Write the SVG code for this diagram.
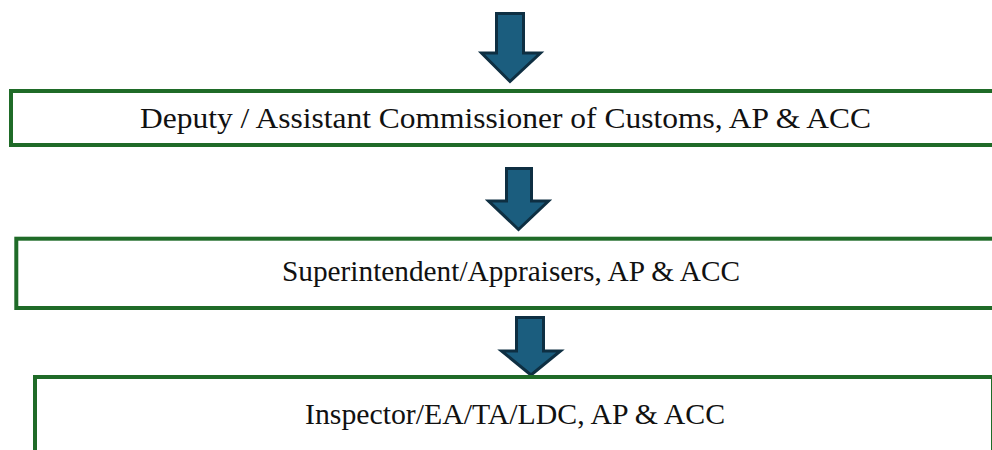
<svg xmlns="http://www.w3.org/2000/svg" width="992" height="450" viewBox="0 0 992 450">
<style>
.box{fill:#ffffff;stroke:#1f6b28;stroke-width:4}
.arr{fill:#1b5d7e;stroke:#0e2f42;stroke-width:3;stroke-linejoin:miter}
.t1{font-family:"Liberation Serif",serif;font-size:29px;fill:#111}
.t2{font-family:"Liberation Serif",serif;font-size:29.5px;fill:#111}
</style>
<rect width="992" height="450" fill="#ffffff"/>
<g id="connectors">
<path class="arr" d="M496.5,13.5 H523.5 V53 H540.5 L510,81.5 L481.5,53 H496.5 Z"/>
<path class="arr" d="M506.5,168.5 H531.5 V201 H548.5 L518.5,229.5 L488.5,201 H506.5 Z"/>
<path class="arr" d="M516.5,317.5 H543.5 V351 H560.5 L531,375 L501.5,351 H516.5 Z"/>
</g>
<g id="node1">
<rect class="box" x="11" y="91" width="990" height="54"/>
<text class="t1" x="505.5" y="128" text-anchor="middle" textLength="731" lengthAdjust="spacingAndGlyphs">Deputy / Assistant Commissioner of Customs, AP &amp; ACC</text>
</g>
<g id="node2">
<rect class="box" x="16.3" y="238.7" width="990" height="69.3"/>
<text class="t2" x="511" y="280.5" text-anchor="middle" textLength="458" lengthAdjust="spacingAndGlyphs">Superintendent/Appraisers, AP &amp; ACC</text>
</g>
<g id="node3">
<rect class="box" x="35" y="377" width="958" height="100"/>
<text class="t2" x="515" y="424" text-anchor="middle" textLength="420" lengthAdjust="spacingAndGlyphs">Inspector/EA/TA/LDC, AP &amp; ACC</text>
</g>
</svg>
